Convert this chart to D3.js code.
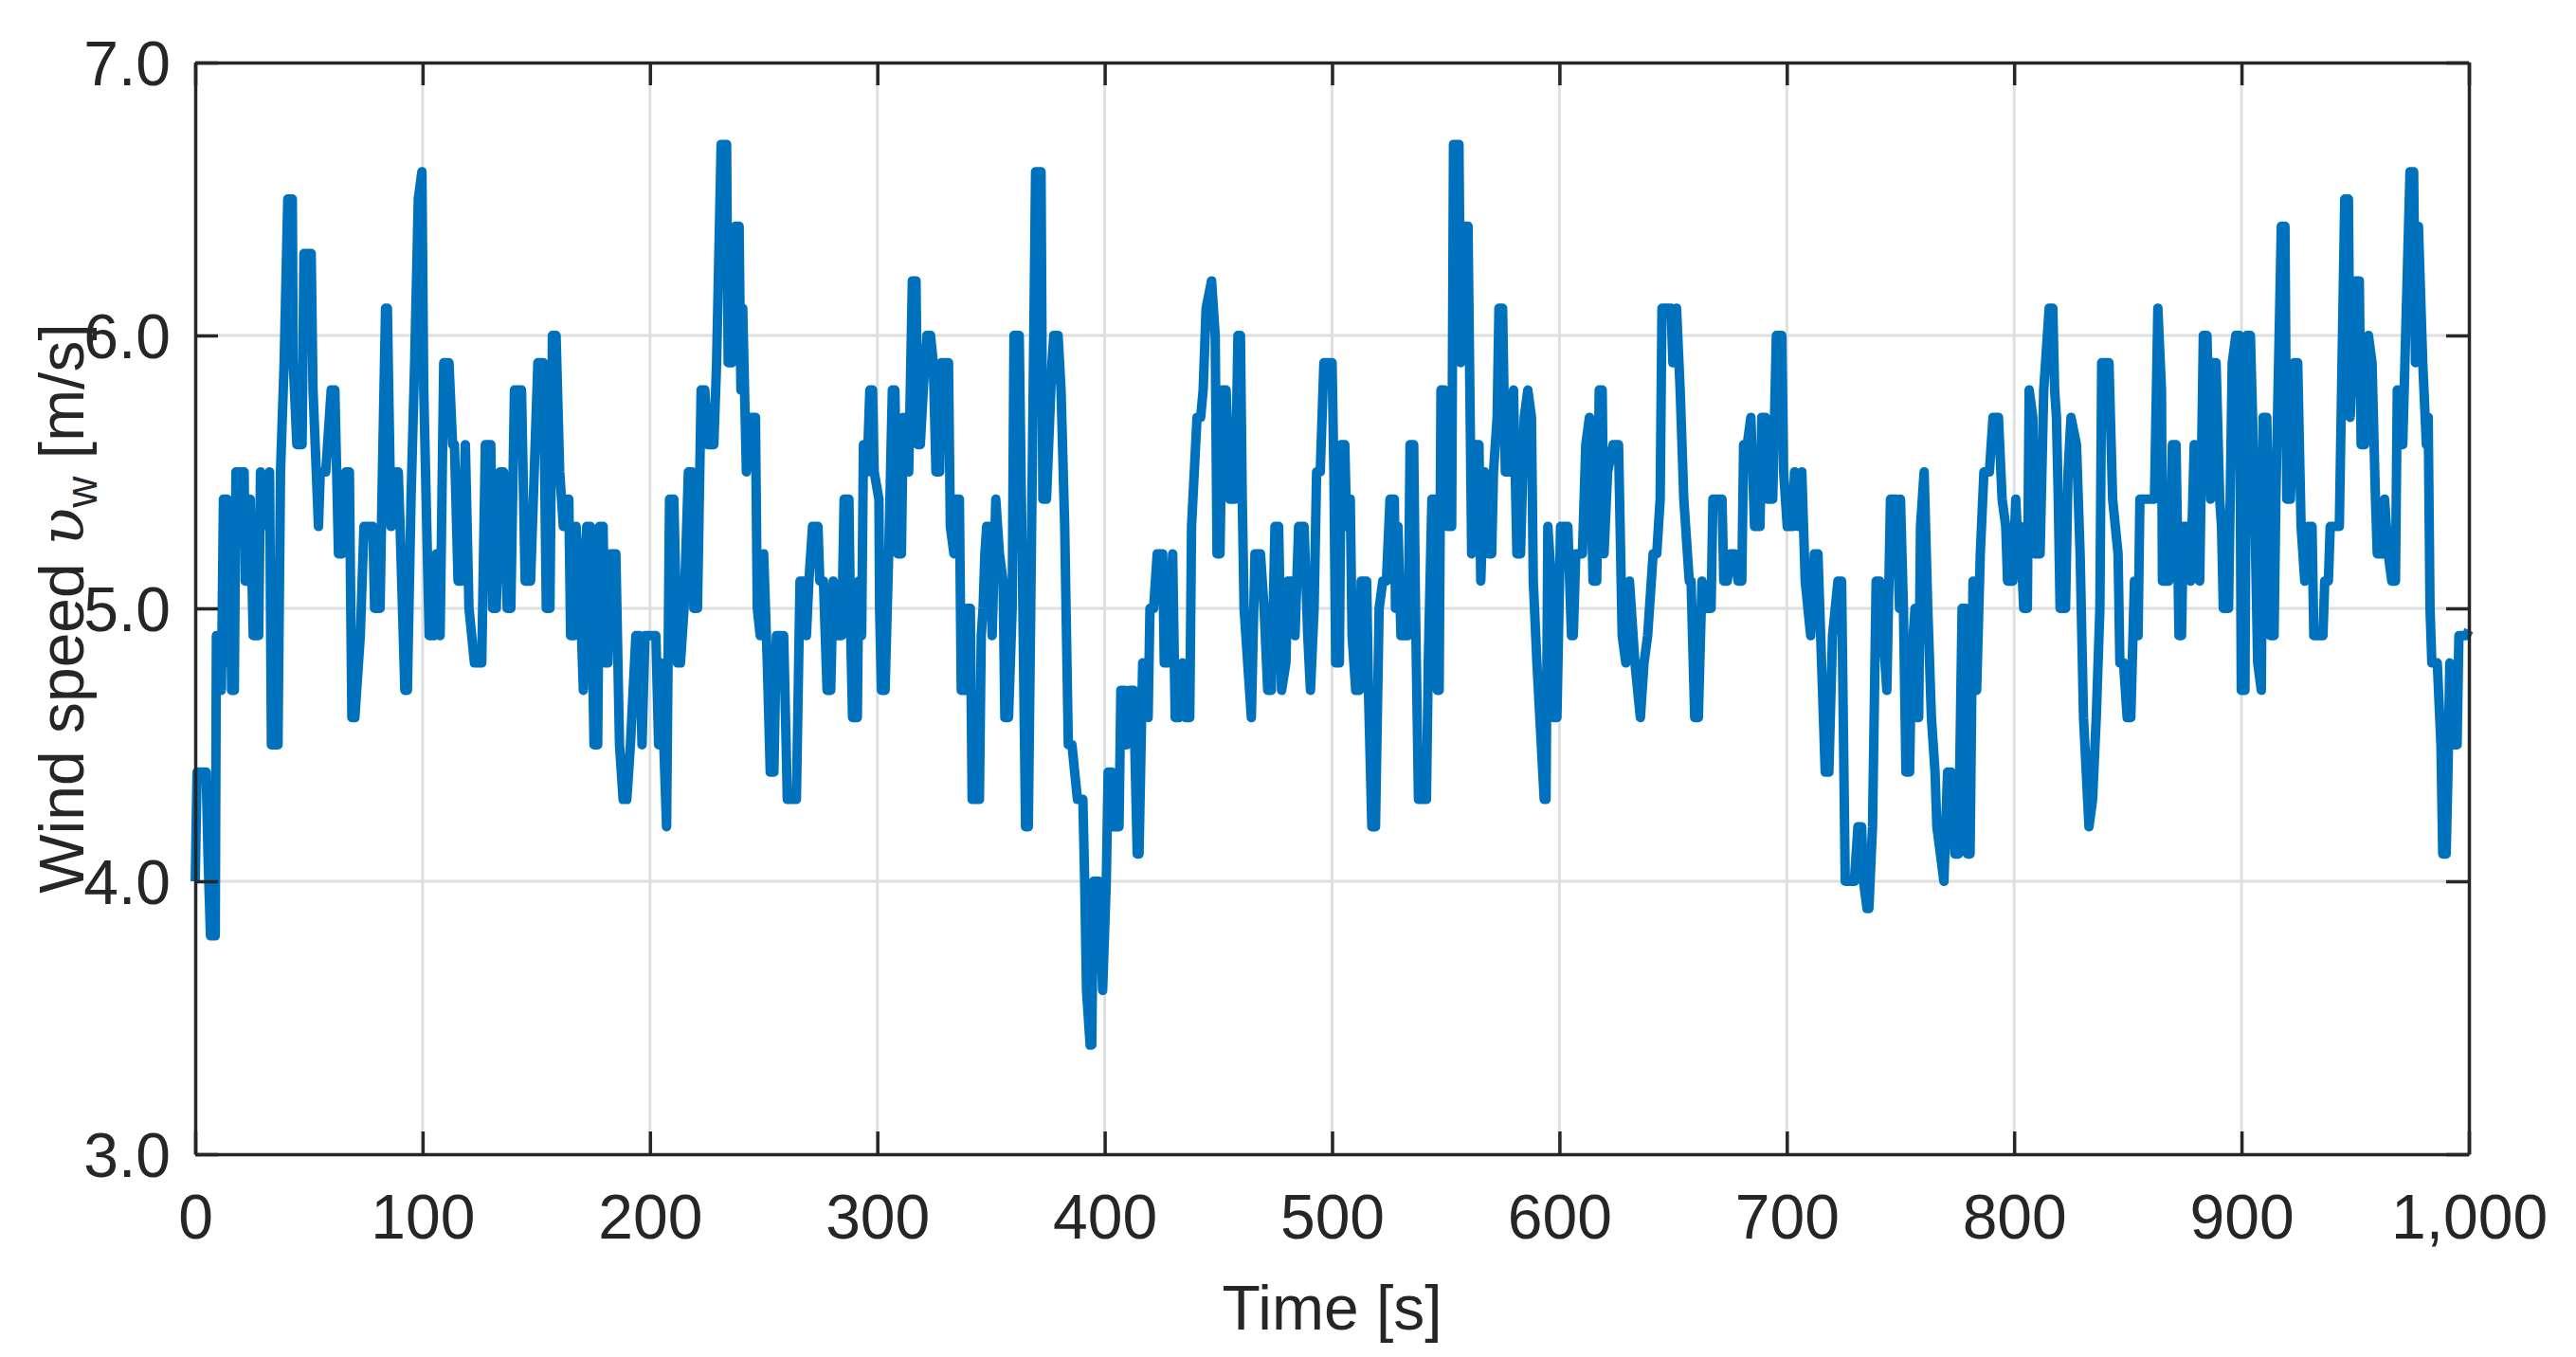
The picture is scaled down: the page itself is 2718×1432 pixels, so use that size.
<!DOCTYPE html>
<html><head><meta charset="utf-8">
<script src="https://cdn.jsdelivr.net/npm/d3@7"></script>
<style>body{margin:0;background:#fff}</style></head>
<body><svg id="c" width="2718" height="1432"></svg>
<script>
const xTicks=[0,100,200,300,400,500,600,700,800,900,1000];
const yTicks=[3,4,5,6,7];
const time=[0,0.8,4.8,5.6,6.7,8.8,9.3,10.8,11.5,12.4,14,14.7,15.5,16,17.2,17.9,21.5,22,23.6,24.2,25.5,27.9,28.7,31.9,32.7,33.5,36.4,37.5,39.1,40.7,42.7,43.1,44.7,47,47.8,51,51.8,54.2,55,57.4,59.8,61.4,63,64.6,66.2,67.8,68.9,70.2,72.6,74.2,78.1,78.9,81.3,82.1,83.7,84.5,86.1,87.7,89.3,90.1,92.2,93.3,94.9,96.5,98.1,99.7,100.5,102.9,105.3,106.1,107.7,109.3,111.6,113.2,114,115.6,117.2,118.8,120.4,122.8,126,127.6,130,130.8,132.4,134,135.6,137.2,138.8,140.4,143.5,145.1,147.5,149.1,150.7,153.1,154.4,156,157.1,158.7,160.3,161.9,162.7,164.3,165.1,166.7,167.5,169.1,170.7,172.2,173.8,175.4,177,177.8,179.4,180.2,181.5,182.6,185,186.6,188.2,189.8,191.4,193.8,195.4,196.5,197.8,202.6,203.8,204.9,207.3,208.6,210.5,212.1,213.4,215,216.9,218.5,219.3,220.9,222.5,224.1,225.7,228.1,229.3,231.3,233.7,234.4,236,237.6,239.2,240,240.8,242.4,244,246.4,247.2,248.5,
250,251.6,252.9,254.5,255.6,258.8,259.9,260.4,264.4,266,267.5,268.8,269.9,271.5,273.9,274.7,276.3,277.9,279.5,280.6,281.9,284.3,285.4,287.5,288.3,289.1,291.2,291.8,293.1,293.9,295.5,296.7,297.9,298.6,300.7,301,301.8,303.4,305,306.6,307.7,309,310.6,311.4,313.8,315.4,317,317.8,318.9,320.2,321.8,323.4,324.6,325.8,327.4,328.2,331.3,332.1,333.7,334.5,336.1,336.9,338.5,339.3,340.9,341.7,343.3,344.9,345.7,346.5,347.3,348.1,349.7,350.5,352.1,353.7,355.3,356.1,357.7,359.3,360.1,362.4,364,365.2,366.4,368,369.6,372,372.8,374.4,376.8,377.6,379.5,380.8,382.4,384,385.6,388,390.4,391.2,392,393.6,394.3,395.1,397.5,399.1,400.7,401.5,403.1,403.9,406.3,407.1,408.7,409.5,411.1,412.7,414.3,415.1,416.7,419.1,419.9,421.5,423.1,425.5,426.2,427.8,429.9,431,432.6,434.2,435.8,437.4,438.2,440.6,442.2,443.3,444.6,447,448.6,449.4,450.7,451.8,453.4,455,457.4,458.6,459.7,460.5,461.3,462.1,463.7,464.5,466.1,468.5,470.1,471.7,473.3,474.9,476.5,477.8,479.7,480.5,482.9,483.7,485.3,487.7,489.3,490.5,492.1,493.2,494.8,496.4,498.8,
500,500.8,501.6,503.2,504,505.6,506.4,508,508.8,510.4,512,512.8,515.2,516,517.5,519.1,520.7,522.3,523.9,525.5,527.4,527.9,529,530.3,533.5,534.3,535.9,536.7,538,541.5,542.3,543.9,545.5,546.3,547.1,547.9,549.4,550.7,552.6,553.4,555.8,556.6,558.2,559.8,561.4,563,564.6,565.4,567,568.3,568.9,570.2,571,572.6,573.4,575,576.2,578.2,579.8,581.3,582.9,584.5,586.1,587.7,588.5,590.1,593.3,594.1,594.9,596.5,597.3,598.9,600.5,603.7,605.3,606.1,607.2,610.1,611.6,613.2,614.8,616.4,617.5,618.8,619.6,621.2,623.6,626,627.6,629.2,630.8,632.4,633.2,635.6,637.2,638.8,641.2,642.8,644.3,645.1,649.1,649.9,651.5,653.1,654.7,657.1,657.9,659.5,661.1,662.7,664.3,666.7,667.5,671.5,672.3,673.8,675.4,677,678.6,680.2,681,682.6,684.2,685.8,688.2,689,690.6,691.4,693.8,695.4,697.8,698.6,700.2,702.6,703.4,705,706.6,708.1,710.5,712.1,713.7,715.3,716.9,718.5,720.1,722.5,724.1,725.7,729.7,731.3,732.9,733.7,735.3,736.1,737.7,739.3,740.8,742.4,744,745.6,748,749.6,
750,751.3,752.4,754,754.8,756.4,757.2,758,758.8,760.4,762,763.6,765.2,766,769.1,770.7,772.3,773.9,775.5,777.1,778.7,779.5,780.6,781.9,783.5,785.1,786.7,789.1,790.7,793.1,794.7,796.3,797.1,799.4,800.7,801.8,802.6,804.2,805.8,806.6,808.2,809,811.4,813,815.4,817,817.8,818.6,819.4,820.2,822.6,823.7,825,827.4,829,830.5,832.9,834.5,836.1,837.7,838.5,841.7,843.3,845.7,846.5,848.1,849.7,851.3,852.9,854.5,855.3,858.5,861.7,863.2,864.8,865.2,868,869.6,871.2,872.5,873.6,874.4,876,877.6,879.2,881.6,883.2,884.8,886.4,887.2,888.8,890.4,891.2,892,892.8,894.3,895.9,897.5,899.1,899.9,901.5,902.3,903.9,905.5,907.1,908.7,909.5,911.1,912.7,914.3,915.1,917.5,919.1,919.9,921.5,923.1,924.7,926.2,927.8,929.4,931,931.8,935.8,936.6,938.2,939,943,943.8,945.4,947,947.8,950.2,951.8,952.6,954.2,955.8,957.4,958.9,959.7,962.1,962.9,964.5,966.1,967.7,968.5,970.1,970.9,972.5,974.1,975.7,976.5,977.8,979.7,981.3,982.1,982.9,983.7,986.1,987.7,988.5,990,990.8,991.6,992.4,994.8,995.6,997.2,998.8,1000];
const speed=[4.0,4.4,4.4,4.1,3.8,3.8,4.9,4.9,4.7,5.4,5.4,4.8,5.1,4.7,4.7,5.5,5.5,5.1,5.1,5.4,4.9,4.9,5.5,5.3,5.5,4.5,4.5,5.5,5.9,6.5,6.5,5.9,5.6,5.6,6.3,6.3,5.8,5.3,5.5,5.5,5.8,5.8,5.2,5.2,5.5,5.5,4.6,4.6,4.9,5.3,5.3,5.0,5.0,5.4,6.1,6.1,5.3,5.5,5.5,5.3,4.7,4.7,5.4,5.9,6.5,6.6,5.8,4.9,4.9,5.2,4.9,5.9,5.9,5.6,5.6,5.1,5.1,5.6,5.0,4.8,4.8,5.6,5.6,5.0,5.0,5.5,5.5,5.0,5.0,5.8,5.8,5.1,5.1,5.5,5.9,5.9,5.0,5.0,6.0,6.0,5.5,5.3,5.4,5.4,4.9,4.9,5.3,5.1,4.7,5.3,5.3,4.5,4.5,5.3,5.3,4.8,4.8,5.2,5.2,4.5,4.3,4.3,4.5,4.9,4.9,4.5,4.9,4.9,4.5,4.8,4.2,5.4,5.4,4.8,4.8,5.0,5.5,5.5,5.0,5.0,5.8,5.8,5.6,5.6,5.9,6.7,6.7,5.9,5.9,6.4,6.4,5.8,6.1,5.5,5.7,5.7,5.0,4.9,
5.2,4.8,4.4,4.4,4.9,4.9,4.5,4.3,4.3,5.1,5.1,4.9,5.1,5.3,5.3,5.1,5.1,4.7,4.7,5.1,4.9,4.9,5.4,5.4,4.9,4.6,4.6,5.1,4.9,5.6,5.5,5.8,5.8,5.5,5.4,5.0,4.7,4.7,5.2,5.8,5.8,5.2,5.2,5.7,5.5,6.2,6.2,5.6,5.6,5.8,6.0,6.0,5.9,5.5,5.5,5.9,5.9,5.3,5.2,5.4,5.4,4.7,4.7,5.0,5.0,4.3,4.3,4.3,4.9,5.0,5.2,5.3,5.3,4.9,5.4,5.2,5.1,4.6,4.6,5.0,6.0,6.0,5.0,4.2,4.2,5.4,6.6,6.6,5.4,5.4,5.9,6.0,6.0,5.8,5.3,4.5,4.5,4.3,4.3,4.0,3.6,3.4,3.4,4.0,4.0,3.6,4.0,4.4,4.4,4.2,4.2,4.7,4.7,4.5,4.7,4.7,4.1,4.1,4.8,4.6,5.0,5.0,5.2,5.2,4.8,4.8,5.2,4.6,4.6,4.8,4.6,4.6,5.3,5.7,5.7,5.8,6.1,6.2,6.0,5.2,5.2,5.8,5.8,5.4,5.4,6.0,6.0,5.4,5.0,4.9,4.7,4.6,5.2,5.2,5.0,4.7,4.7,5.3,5.3,4.7,4.8,5.1,5.1,4.9,5.3,5.3,4.9,4.7,5.0,5.5,5.5,5.9,5.9,
5.9,5.5,4.8,4.8,5.6,5.6,5.3,5.4,4.9,4.7,4.7,5.1,5.1,4.7,4.2,4.2,5.0,5.1,5.1,5.4,5.4,5.0,5.3,4.9,4.9,5.6,5.6,5.0,4.3,4.3,4.8,5.4,5.4,4.7,4.7,5.8,5.8,5.3,5.3,6.7,6.7,5.9,6.4,6.4,5.2,5.6,5.6,5.1,5.5,5.3,5.2,5.2,5.5,5.7,6.1,6.1,5.5,5.5,5.8,5.2,5.2,5.7,5.8,5.7,5.1,4.8,4.3,4.3,5.3,5.1,4.6,4.6,5.3,5.3,4.9,4.9,5.2,5.2,5.6,5.7,5.1,5.1,5.8,5.8,5.2,5.5,5.6,5.6,4.9,4.8,5.1,4.9,4.8,4.6,4.8,4.9,5.2,5.2,5.4,6.1,6.1,5.9,6.1,5.8,5.4,5.1,5.1,4.6,4.6,5.1,5.0,5.0,5.4,5.4,5.1,5.1,5.2,5.2,5.1,5.1,5.6,5.6,5.7,5.3,5.3,5.7,5.7,5.4,5.4,6.0,6.0,5.5,5.3,5.3,5.5,5.3,5.5,5.1,4.9,5.2,5.2,4.8,4.4,4.4,4.9,5.1,5.1,4.0,4.0,4.2,4.2,4.0,3.9,3.9,4.2,5.1,5.1,4.9,4.7,5.4,5.4,5.0,
5.4,5.0,4.4,4.4,4.8,5.0,4.6,4.6,5.3,5.5,5.0,4.6,4.4,4.2,4.0,4.4,4.4,4.1,4.1,5.0,5.0,4.1,4.1,5.1,4.7,5.2,5.5,5.5,5.7,5.7,5.4,5.3,5.1,5.1,5.4,5.2,5.3,5.0,5.0,5.8,5.7,5.2,5.2,5.8,6.1,6.1,5.8,5.7,5.4,5.0,5.0,5.5,5.7,5.6,5.2,4.6,4.2,4.3,4.6,5.0,5.9,5.9,5.4,5.2,4.8,4.8,4.6,4.6,5.1,4.9,5.4,5.4,5.4,6.1,5.8,5.1,5.1,5.6,5.6,4.9,4.9,5.3,5.3,5.1,5.6,5.1,6.0,6.0,5.4,5.9,5.9,5.4,5.3,5.0,5.0,5.0,5.9,6.0,6.0,4.7,4.7,6.0,6.0,5.5,4.8,4.7,5.7,5.7,4.9,4.9,5.4,6.4,6.4,5.4,5.4,5.9,5.9,5.3,5.1,5.3,5.3,4.9,4.9,5.1,5.1,5.3,5.3,5.7,6.5,6.5,5.7,6.2,6.2,5.6,5.6,6.0,5.9,5.4,5.2,5.2,5.4,5.2,5.1,5.1,5.8,5.6,5.6,6.1,6.6,6.6,5.9,6.4,5.9,5.6,5.7,5.0,4.8,4.8,4.5,4.1,4.1,4.4,4.8,4.5,4.5,4.9,4.9,4.9,4.92];

const W=2718,H=1432,L=206,R=2605,T=66,B=1218;
const svg=d3.select("#c");
const x=d3.scaleLinear().domain([0,1000]).range([L,R]);
const y=d3.scaleLinear().domain([3,7]).range([B,T]);
const font="Arial, 'Liberation Sans', sans-serif", col="#262626";
// grid
svg.append("g").selectAll("line").data(xTicks.slice(1,-1)).join("line")
 .attr("x1",d=>x(d)).attr("x2",d=>x(d)).attr("y1",T).attr("y2",B).attr("stroke","#dfdfdf").attr("stroke-width",3);
svg.append("g").selectAll("line").data(yTicks.slice(1,-1)).join("line")
 .attr("y1",d=>y(d)).attr("y2",d=>y(d)).attr("x1",L).attr("x2",R).attr("stroke","#dfdfdf").attr("stroke-width",3);
// line
const n=Math.min(time.length,speed.length);
const pts=d3.range(n).map(i=>[time[i],speed[i]]);
svg.append("path").datum(pts).attr("fill","none").attr("stroke","#0072BD").attr("stroke-width",10)
 .attr("stroke-linejoin","round").attr("d",d3.line().x(d=>x(d[0])).y(d=>y(d[1])));
// axes
const xa=svg.append("g").attr("transform",`translate(0,${B})`).call(d3.axisBottom(x).tickValues(xTicks).tickSizeInner(-24).tickSizeOuter(0).tickPadding(50));
const xt=svg.append("g").attr("transform",`translate(0,${T})`).call(d3.axisTop(x).tickValues(xTicks).tickSizeInner(-24).tickSizeOuter(0).tickFormat(""));
const ya=svg.append("g").attr("transform",`translate(${L},0)`).call(d3.axisLeft(y).tickValues(yTicks).tickSizeInner(-24).tickSizeOuter(0).tickPadding(50));
const yr=svg.append("g").attr("transform",`translate(${R},0)`).call(d3.axisRight(y).tickValues(yTicks).tickSizeInner(-24).tickSizeOuter(0).tickFormat(""));
[xa,xt,ya,yr].forEach(g=>{g.select(".domain").attr("stroke",col).attr("stroke-width",3.5);
 g.selectAll(".tick line").attr("stroke",col).attr("stroke-width",3.5);
 g.selectAll("text").attr("font-family",font).attr("font-size",66).attr("fill",col);});
xa.selectAll("text").attr("dy","0.71em").attr("y",42);
ya.selectAll("text").attr("x",-26).attr("dy","0.35em");
// labels
svg.append("text").attr("x",(L+R)/2).attr("y",1403).attr("text-anchor","middle")
 .attr("font-family",font).attr("font-size",66).attr("fill",col).text("Time [s]");
const yl=svg.append("text").attr("transform",`translate(88,${(T+B)/2}) rotate(-90)`).attr("text-anchor","middle")
 .attr("font-family",font).attr("font-size",66).attr("fill",col);
yl.append("tspan").text("Wind speed ");
yl.append("tspan").attr("font-family","'DejaVu Serif', serif").attr("font-style","italic").text("υ");
yl.append("tspan").attr("font-size",46).attr("dy",14).text("w");
yl.append("tspan").attr("dy",-14).text(" [m/s]");
</script></body></html>
